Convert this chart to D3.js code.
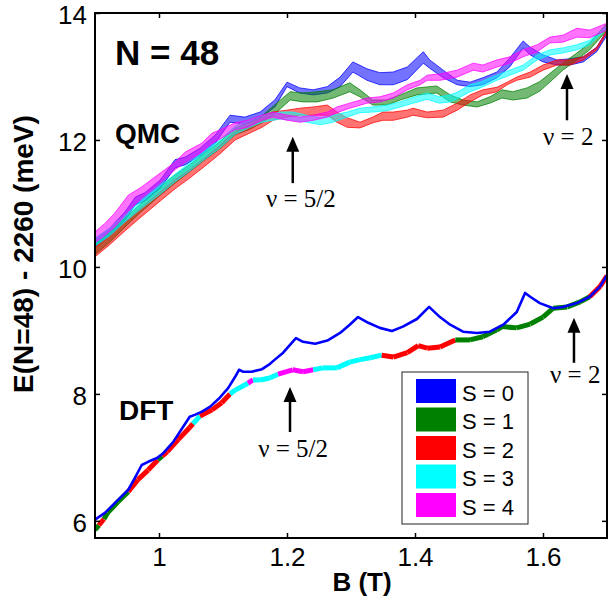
<!DOCTYPE html>
<html><head><meta charset="utf-8">
<script src="https://cdn.jsdelivr.net/npm/d3@7/dist/d3.min.js"></script>
<style>body{margin:0;background:#fff}svg{display:block}</style>
</head><body>
<svg id="c" width="608" height="599"></svg>
<script>
// ---------- data ----------
const xTicks = [1, 1.2, 1.4, 1.6];
const xTickLabels = ["1", "1.2", "1.4", "1.6"];
const yTicks = [6, 8, 10, 12, 14];
const yTickLabels = ["6", "8", "10", "12", "14"];
const spinLabels = ["S = 0", "S = 1", "S = 2", "S = 3", "S = 4"];
const spinColors = ["#0000ff", "#008000", "#ff0000", "#00ffff", "#ff00ff"];

// QMC bands: [B (T), lower E, upper E]
const qmcS0 = [[0.900,10.32,10.43],[0.923,10.49,10.61],[0.947,10.74,10.87],[0.963,10.98,11.10],[0.978,11.04,11.17],[1.002,11.24,11.37],[1.025,11.56,11.69],[1.041,11.61,11.73],[1.064,11.75,11.87],[1.088,11.95,12.08],[1.111,12.28,12.39],[1.134,12.25,12.36],[1.158,12.35,12.44],[1.181,12.52,12.63],[1.200,12.84,12.91],[1.220,12.74,12.82],[1.241,12.71,12.79],[1.263,12.74,12.84],[1.283,12.84,12.99],[1.303,13.07,13.23],[1.325,12.94,13.12],[1.345,12.87,13.06],[1.366,12.87,13.07],[1.388,12.95,13.15],[1.413,13.21,13.39],[1.423,13.13,13.26],[1.444,12.98,13.10],[1.466,12.87,12.94],[1.486,12.84,12.91],[1.506,12.87,12.98],[1.528,12.98,13.07],[1.548,13.15,13.29],[1.569,13.45,13.56],[1.580,13.34,13.46],[1.600,13.23,13.34],[1.622,13.18,13.26],[1.642,13.18,13.28],[1.663,13.23,13.31],[1.684,13.39,13.46],[1.700,13.65,13.73]];
const qmcS1 = [[0.900,10.19,10.35],[0.923,10.39,10.54],[0.947,10.63,10.77],[0.970,10.85,10.98],[1.002,11.13,11.26],[1.025,11.32,11.45],[1.048,11.50,11.61],[1.072,11.69,11.80],[1.095,11.86,11.97],[1.119,12.08,12.19],[1.142,12.17,12.28],[1.161,12.27,12.38],[1.184,12.44,12.58],[1.205,12.63,12.76],[1.225,12.60,12.74],[1.247,12.60,12.76],[1.272,12.66,12.79],[1.298,12.76,12.90],[1.314,12.68,12.79],[1.334,12.55,12.63],[1.356,12.55,12.63],[1.377,12.63,12.71],[1.403,12.71,12.82],[1.434,12.74,12.85],[1.455,12.60,12.71],[1.475,12.55,12.63],[1.497,12.52,12.60],[1.517,12.58,12.68],[1.536,12.66,12.79],[1.553,12.63,12.76],[1.575,12.66,12.82],[1.595,12.77,12.92],[1.616,12.96,13.09],[1.631,13.10,13.21],[1.653,13.26,13.37],[1.673,13.42,13.53],[1.700,13.73,13.84]];
const qmcS2 = [[0.900,10.16,10.31],[0.923,10.35,10.49],[0.947,10.57,10.71],[0.970,10.77,10.91],[1.002,11.04,11.18],[1.025,11.23,11.37],[1.048,11.40,11.53],[1.072,11.59,11.72],[1.095,11.78,11.91],[1.119,12.00,12.13],[1.142,12.11,12.24],[1.161,12.20,12.35],[1.178,12.31,12.44],[1.200,12.36,12.47],[1.220,12.39,12.50],[1.241,12.39,12.52],[1.263,12.39,12.55],[1.278,12.28,12.44],[1.294,12.20,12.35],[1.314,12.19,12.28],[1.334,12.27,12.36],[1.350,12.31,12.44],[1.366,12.31,12.44],[1.388,12.36,12.47],[1.397,12.39,12.50],[1.419,12.35,12.44],[1.444,12.36,12.47],[1.466,12.47,12.58],[1.486,12.60,12.71],[1.506,12.71,12.79],[1.528,12.76,12.83],[1.544,12.87,12.91],[1.559,12.94,12.99],[1.580,12.99,13.07],[1.600,13.10,13.18],[1.622,13.18,13.26],[1.642,13.18,13.26],[1.663,13.26,13.31],[1.684,13.42,13.46],[1.700,13.69,13.73]];
const qmcS3 = [[0.900,10.33,10.46],[0.923,10.49,10.61],[0.947,10.71,10.83],[0.970,10.90,11.02],[1.002,11.15,11.28],[1.025,11.34,11.46],[1.048,11.51,11.64],[1.072,11.70,11.83],[1.095,11.87,12.00],[1.119,12.09,12.22],[1.142,12.20,12.31],[1.161,12.28,12.38],[1.189,12.33,12.44],[1.209,12.31,12.44],[1.231,12.28,12.39],[1.252,12.24,12.35],[1.272,12.28,12.39],[1.294,12.36,12.44],[1.314,12.43,12.50],[1.334,12.44,12.52],[1.356,12.46,12.55],[1.377,12.52,12.60],[1.397,12.58,12.67],[1.419,12.64,12.74],[1.438,12.58,12.68],[1.455,12.60,12.71],[1.466,12.65,12.75],[1.486,12.76,12.87],[1.502,12.82,12.91],[1.528,12.94,13.02],[1.548,13.02,13.10],[1.569,13.10,13.18],[1.591,13.26,13.34],[1.611,13.34,13.42],[1.631,13.37,13.45],[1.653,13.42,13.50],[1.673,13.50,13.57],[1.700,13.76,13.81]];
const qmcS4 = [[0.900,10.38,10.55],[0.916,10.50,10.69],[0.931,10.63,10.85],[0.952,10.87,11.13],[0.973,11.09,11.26],[0.994,11.26,11.42],[1.025,11.53,11.65],[1.041,11.65,11.81],[1.067,11.81,11.95],[1.083,11.95,12.11],[1.098,12.03,12.17],[1.119,12.16,12.27],[1.139,12.20,12.31],[1.161,12.31,12.39],[1.178,12.36,12.44],[1.200,12.31,12.39],[1.220,12.28,12.36],[1.241,12.31,12.39],[1.263,12.36,12.44],[1.278,12.43,12.52],[1.298,12.50,12.58],[1.325,12.58,12.66],[1.345,12.60,12.68],[1.366,12.66,12.74],[1.388,12.79,12.87],[1.408,12.87,12.94],[1.419,12.94,13.02],[1.439,12.94,13.04],[1.466,12.99,13.10],[1.491,13.10,13.21],[1.506,13.07,13.18],[1.528,13.15,13.26],[1.548,13.21,13.31],[1.569,13.31,13.42],[1.591,13.39,13.50],[1.611,13.53,13.62],[1.631,13.54,13.65],[1.653,13.62,13.76],[1.673,13.61,13.73],[1.700,13.73,13.84]];

// DFT S=0 line: [B, E]
const dftS0 = [[0.900,6.02],[0.916,6.13],[0.936,6.33],[0.952,6.49],[0.963,6.69],[0.973,6.88],[0.983,6.93],[0.997,6.99],[1.006,7.06],[1.022,7.24],[1.037,7.47],[1.048,7.64],[1.056,7.67],[1.067,7.72],[1.080,7.80],[1.095,7.94],[1.108,8.09],[1.119,8.27],[1.125,8.38],[1.131,8.35],[1.145,8.35],[1.161,8.39],[1.173,8.47],[1.181,8.54],[1.194,8.65],[1.214,8.88],[1.225,8.82],[1.244,8.79],[1.263,8.84],[1.283,8.96],[1.298,9.09],[1.311,9.21],[1.327,9.12],[1.345,9.04],[1.364,8.99],[1.381,9.06],[1.403,9.18],[1.422,9.37],[1.439,9.21],[1.455,9.09],[1.475,8.98],[1.497,8.96],[1.517,8.98],[1.538,9.09],[1.559,9.29],[1.572,9.59],[1.580,9.53],[1.595,9.43],[1.616,9.35],[1.631,9.37],[1.653,9.43],[1.673,9.53],[1.689,9.69],[1.700,9.87]];
// DFT ground state: [B, E] and spin of the segment starting at each point
const dftGround = [[0.900,5.86],[0.906,5.93],[0.914,6.03],[0.920,6.13],[0.936,6.30],[0.952,6.46],[0.967,6.65],[0.983,6.80],[0.998,6.96],[1.005,7.02],[1.013,7.09],[1.030,7.28],[1.048,7.47],[1.053,7.53],[1.064,7.65],[1.083,7.75],[1.098,7.86],[1.111,8.00],[1.119,8.06],[1.134,8.14],[1.139,8.17],[1.147,8.22],[1.158,8.22],[1.173,8.25],[1.186,8.31],[1.209,8.38],[1.225,8.35],[1.241,8.38],[1.256,8.41],[1.278,8.41],[1.298,8.50],[1.314,8.54],[1.330,8.57],[1.348,8.61],[1.366,8.58],[1.388,8.65],[1.405,8.76],[1.419,8.72],[1.439,8.74],[1.463,8.85],[1.486,8.85],[1.506,8.90],[1.528,9.01],[1.536,9.06],[1.559,9.04],[1.580,9.10],[1.600,9.21],[1.616,9.35],[1.638,9.37],[1.658,9.45],[1.673,9.53],[1.689,9.69],[1.700,9.86]];
const dftGroundS = [1,2,1,1,1,2,2,2,1,2,2,2,2,3,2,2,2,3,3,3,4,3,3,3,4,4,4,3,3,3,3,3,3,2,2,2,2,2,2,1,1,1,1,1,1,1,1,1,1,1,2,2];

// annotations: [label, text B, text E, arrow B, arrow tip E, arrow tail E]
const annotations = [
  ["ν = 5/2", 1.167, 10.945, 1.209, 12.05, 11.32],
  ["ν = 2",   1.600, 11.92, 1.6375, 13.04, 12.31],
  ["ν = 5/2", 1.155, 7.01, 1.2047, 8.11, 7.40],
  ["ν = 2",   1.611, 8.17, 1.6484, 9.20, 8.49]
];

// ---------- chart ----------
const svg = d3.select("#c");
svg.append("rect").attr("width",608).attr("height",599).attr("fill","#fff");
const L = 95, R = 607, T = 13, B = 538;
const x = d3.scaleLinear().domain([0.9, 1.7]).range([L, R]);
const y = d3.scaleLinear().domain([5.73, 14]).range([B, T]);

svg.append("defs").append("clipPath").attr("id","clip")
  .append("rect").attr("x",L).attr("y",T).attr("width",R-L).attr("height",B-T);
const plot = svg.append("g").attr("clip-path","url(#clip)");

const area = d3.area().x(d=>x(d[0])).y0(d=>y(d[1])).y1(d=>y(d[2]));
[qmcS0, qmcS1, qmcS2, qmcS3, qmcS4].forEach((band, i) => {
  plot.append("path").attr("d", area(band))
    .attr("fill", spinColors[i]).attr("fill-opacity", 0.55)
    .attr("stroke", spinColors[i]).attr("stroke-opacity", 0.75).attr("stroke-width", 1);
});

const line = d3.line().x(d=>x(d[0])).y(d=>y(d[1]));
for (let i = 0; i < dftGround.length - 1; i++) {
  plot.append("path").attr("d", line([dftGround[i], dftGround[i+1]]))
    .attr("fill","none").attr("stroke", spinColors[dftGroundS[i]])
    .attr("stroke-width", 5).attr("stroke-linecap","butt");
}
plot.append("path").attr("d", line(dftS0)).attr("fill","none")
  .attr("stroke", spinColors[0]).attr("stroke-width", 2.6).attr("stroke-linejoin","round");

// axes
const font = "'Liberation Sans', Arial, sans-serif";
const ax = svg.append("g").attr("transform",`translate(0,${B})`)
  .call(d3.axisBottom(x).tickValues(xTicks).tickFormat((d,i)=>xTickLabels[i]).tickSizeInner(-5).tickSizeOuter(0).tickPadding(10));
const ay = svg.append("g").attr("transform",`translate(${L},0)`)
  .call(d3.axisLeft(y).tickValues(yTicks).tickFormat((d,i)=>yTickLabels[i]).tickSizeInner(-5).tickSizeOuter(0).tickPadding(8));
const axT = svg.append("g").attr("transform",`translate(0,${T})`)
  .call(d3.axisTop(x).tickValues(xTicks).tickFormat("").tickSizeInner(-5).tickSizeOuter(0));
const ayR = svg.append("g").attr("transform",`translate(${R},0)`)
  .call(d3.axisRight(y).tickValues(yTicks).tickFormat("").tickSizeInner(-5).tickSizeOuter(0));
[ax, ay, axT, ayR].forEach(g => {
  g.select(".domain").remove();
  g.selectAll(".tick line").attr("stroke","#000").attr("stroke-width",1.5);
  g.selectAll("text").attr("font-family", font).attr("font-size", 26).attr("fill","#000");
});
ay.selectAll("text").attr("dy","0.4em");
svg.append("rect").attr("x",L).attr("y",T).attr("width",R-L).attr("height",B-T)
  .attr("fill","none").attr("stroke","#000").attr("stroke-width",2);

// axis labels
svg.append("text").attr("transform","translate(33,254) rotate(-90)")
  .attr("text-anchor","middle").attr("font-family",font).attr("font-weight","bold")
  .attr("font-size",28).text("E(N=48) - 2260 (meV)");
svg.append("text").attr("x",362).attr("y",591).attr("text-anchor","middle")
  .attr("font-family",font).attr("font-weight","bold").attr("font-size",26).text("B (T)");

// panel labels
svg.append("text").attr("x",115).attr("y",65).attr("font-family",font).attr("font-weight","bold").attr("font-size",35).text("N = 48");
svg.append("text").attr("x",115).attr("y",143).attr("font-family",font).attr("font-weight","bold").attr("font-size",28).text("QMC");
svg.append("text").attr("x",119).attr("y",420).attr("font-family",font).attr("font-weight","bold").attr("font-size",28).text("DFT");

// annotations
annotations.forEach(a => {
  svg.append("text").attr("x", x(a[1])).attr("y", y(a[2]))
    .attr("font-family","'Liberation Serif', 'Times New Roman', serif").attr("font-size",25).text(a[0]);
  const ax0 = x(a[3]), tip = y(a[4]), tail = y(a[5]);
  svg.append("line").attr("x1",ax0).attr("x2",ax0).attr("y1",tail).attr("y2",tip+12)
    .attr("stroke","#000").attr("stroke-width",2.5);
  svg.append("path").attr("d",`M${ax0},${tip} L${ax0-6.5},${tip+15} L${ax0+6.5},${tip+15} Z`).attr("fill","#000");
});

// legend
const lg = svg.append("g");
lg.append("rect").attr("x",402).attr("y",372).attr("width",126).attr("height",152)
  .attr("fill","#fff").attr("stroke","#222").attr("stroke-width",1);
spinLabels.forEach((s, i) => {
  const yy = 379 + i * 28.5;
  lg.append("rect").attr("x",416).attr("y",yy).attr("width",40).attr("height",24).attr("fill",spinColors[i]);
  lg.append("text").attr("x",462).attr("y",yy+21.7).attr("font-family",font).attr("font-size",22).text(s);
});
</script>
</body></html>
